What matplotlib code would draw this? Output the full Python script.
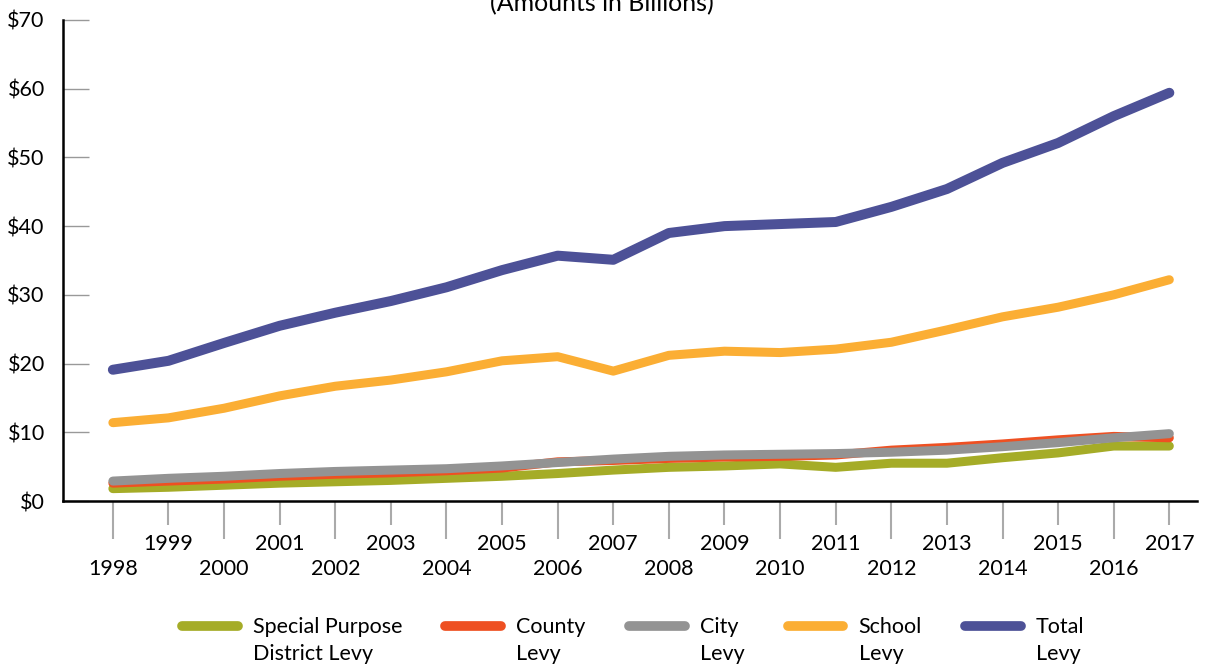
import matplotlib.pyplot as plt
plt.switch_backend('agg')
from matplotlib.legend_handler import HandlerLine2D
import numpy as np

years = list(range(1998, 2018))

special_levy = [1.8, 2.0, 2.3, 2.6, 2.8, 3.0, 3.3, 3.6, 4.0, 4.5, 4.9, 5.1, 5.4, 4.9, 5.5, 5.5, 6.3, 7.0, 8.0, 8.0]
county_levy = [2.6, 2.9, 3.2, 3.6, 3.9, 4.1, 4.4, 4.8, 5.7, 5.9, 6.2, 6.4, 6.5, 6.7, 7.4, 7.8, 8.3, 8.9, 9.4, 9.2]
city_levy = [2.9, 3.3, 3.6, 4.0, 4.3, 4.5, 4.7, 5.1, 5.6, 6.1, 6.5, 6.7, 6.8, 6.9, 7.1, 7.4, 7.9, 8.5, 9.2, 9.8]
school_levy = [11.4, 12.1, 13.5, 15.3, 16.7, 17.6, 18.8, 20.4, 21.0, 18.9, 21.2, 21.8, 21.6, 22.1, 23.1, 24.9, 26.8, 28.2, 30.0, 32.2]
total_levy = [19.1, 20.4, 23.0, 25.5, 27.4, 29.1, 31.1, 33.6, 35.7, 35.1, 39.0, 40.0, 40.3, 40.6, 42.8, 45.4, 49.2, 52.1, 56.0, 59.4]

series = [
    ('Special Purpose\nDistrict Levy', special_levy, '#a5ac27', 6.5),
    ('County\nLevy', county_levy, '#ee5022', 6.5),
    ('City\nLevy', city_levy, '#939393', 6.5),
    ('School\nLevy', school_levy, '#fbae34', 6.5),
    ('Total\nLevy', total_levy, '#4d5197', 7.2),
]

FS = 15.5
plt.rcParams['font.family'] = ['Lato', 'DejaVu Sans']


class FirstLineHandler(HandlerLine2D):
    # put the swatch next to the first line of a two-line label
    def create_artists(self, legend, orig_handle, xdescent, ydescent, width, height, fontsize, trans):
        artists = super().create_artists(legend, orig_handle, xdescent, ydescent,
                                         width, height, fontsize, trans)
        for a in artists:
            a.set_ydata(np.asarray(a.get_ydata()) + 0.72 * fontsize)
        return artists


fig = plt.figure(figsize=(12.08, 6.65), dpi=100)
ax = fig.add_axes([0.052, 0.2466, 0.939, 0.7234])

for label, vals, color, lw in series:
    ax.plot(years, vals, color=color, lw=lw, solid_capstyle='round', label=label)

ax.set_xlim(1997.1, 2017.5)
ax.set_ylim(0, 70)

ax.set_yticks(range(0, 71, 10))
ax.set_yticklabels(['$%d' % v for v in range(0, 71, 10)], fontsize=FS)
ax.tick_params(axis='y', direction='in', length=19, width=1, color='#999999', pad=13)

even = [y for y in years if y % 2 == 0]
odd = [y for y in years if y % 2 == 1]
ax.set_xticks(even)
ax.set_xticklabels([str(y) for y in even], fontsize=FS)
ax.set_xticks(odd, minor=True)
ax.set_xticklabels([str(y) for y in odd], minor=True, fontsize=FS)
ax.tick_params(axis='x', which='major', direction='out', length=27, width=1.5, color='#aaaaaa', pad=15)
ax.tick_params(axis='x', which='minor', direction='out', length=17, width=1.5, color='#aaaaaa', pad=7)

for side in ['top', 'right']:
    ax.spines[side].set_visible(False)
for side in ['left', 'bottom']:
    ax.spines[side].set_linewidth(1.8)
    ax.spines[side].set_color('black')

fig.text(0.498, 0.994, '(Amounts in Billions)', ha='center', va='center', fontsize=18)

leg = fig.legend(loc='lower center', bbox_to_anchor=(0.524, -0.028), ncol=5, frameon=False,
                 fontsize=FS, handlelength=2.6, columnspacing=2.0, handletextpad=0.7,
                 handler_map={plt.Line2D: FirstLineHandler()})
for line in leg.get_lines():
    line.set_linewidth(7)
    line.set_solid_capstyle('round')
for t in leg.get_texts():
    t.set_linespacing(1.45)

fig.savefig('out.png', dpi=100)
